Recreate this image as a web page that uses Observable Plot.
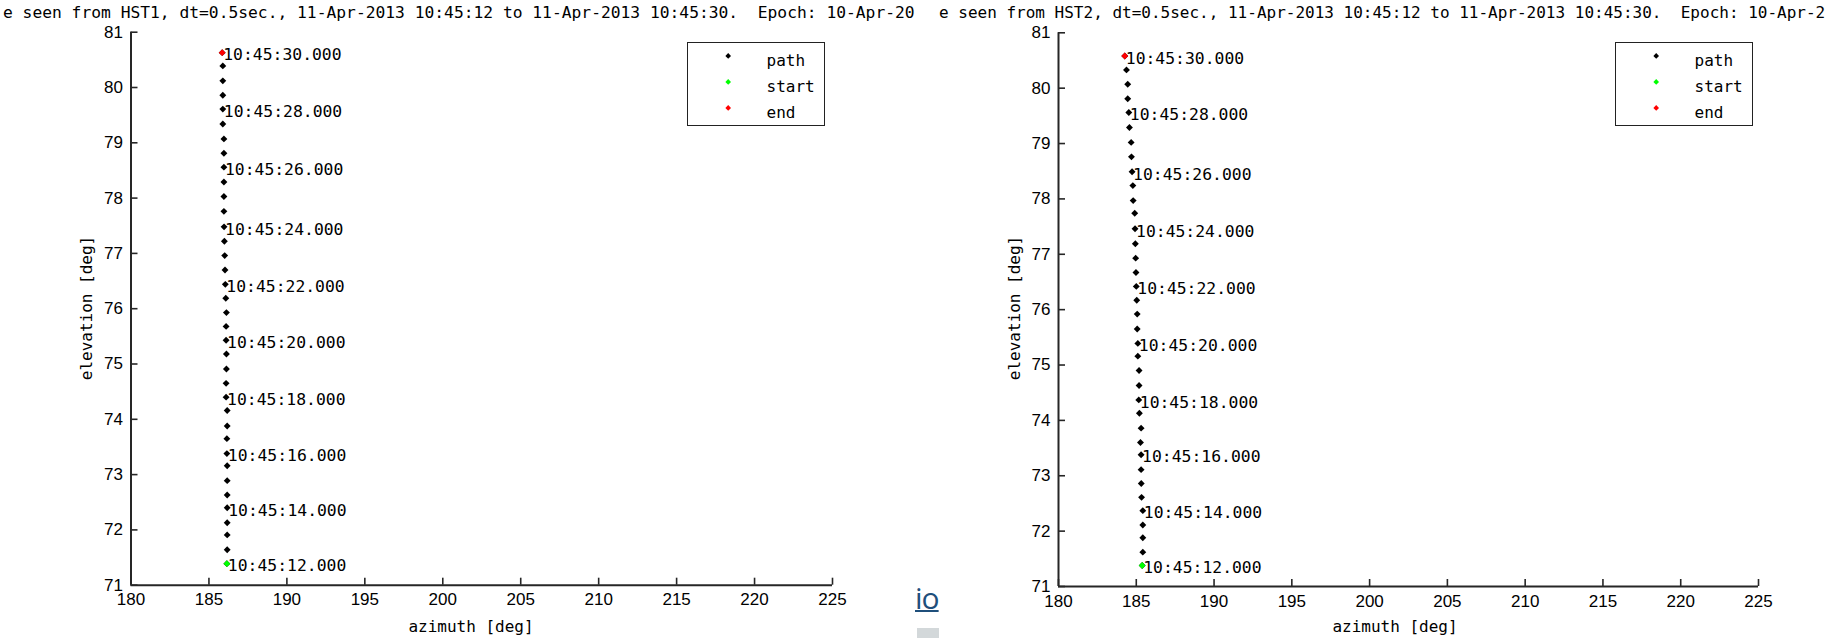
<!DOCTYPE html>
<html>
<head>
<meta charset="utf-8">
<script src="https://cdn.jsdelivr.net/npm/d3@7"></script>
<script src="https://cdn.jsdelivr.net/npm/@observablehq/plot@0.6"></script>
<style>
html,body{margin:0;padding:0;background:#fff;}
body{width:1834px;height:638px;overflow:hidden;position:relative;font-family:"DejaVu Sans Mono",monospace;color:#000;}
.abs{position:absolute;}
.title{white-space:pre;line-height:16px;}
.xlab{font-size:16px;line-height:16px;white-space:pre;width:200px;text-align:center;}
.ylab{font-size:16px;line-height:16px;white-space:pre;width:200px;text-align:center;transform:rotate(-90deg);}
.legend{box-sizing:border-box;width:138px;height:84px;border:1.5px solid #222;background:#fff;}
.lm{position:absolute;width:4.4px;height:4.4px;transform:rotate(45deg);}
.lt{position:absolute;font-size:16px;line-height:16px;white-space:pre;}
</style>
</head>
<body>
<script>
// ---- data ----
// 0.5 s steps from 10:45:12 to 10:45:30 (37 samples), index 0 = start
const azimuthHST1 = [186.15,186.17,186.17,186.17,186.17,186.17,186.17,186.17,186.15,186.15,186.17,186.17,186.10,186.10,186.12,186.12,186.10,186.10,186.12,186.08,186.05,186.03,186.01,185.99,185.97,185.96,185.96,185.96,185.96,185.96,185.96,185.89,185.89,185.89,185.89,185.89,185.85];
const elevationHST1 = [71.39,71.64,71.91,72.13,72.40,72.63,72.89,73.16,73.38,73.65,73.88,74.16,74.40,74.65,74.91,75.18,75.43,75.68,75.93,76.19,76.44,76.70,76.96,77.22,77.48,77.76,78.03,78.29,78.56,78.81,79.07,79.34,79.61,79.86,80.12,80.39,80.63];
const azimuthHST2 = [185.38,185.42,185.42,185.42,185.42,185.34,185.32,185.31,185.31,185.27,185.31,185.20,185.16,185.18,185.18,185.10,185.10,185.06,185.06,185.03,185.00,184.98,184.96,184.94,184.92,184.90,184.80,184.78,184.73,184.69,184.67,184.56,184.52,184.45,184.45,184.37,184.26];
const elevationHST2 = [71.38,71.62,71.88,72.11,72.37,72.61,72.86,73.11,73.38,73.60,73.86,74.13,74.37,74.63,74.90,75.16,75.39,75.65,75.92,76.17,76.42,76.67,76.93,77.19,77.46,77.74,77.97,78.24,78.49,78.76,79.02,79.29,79.56,79.81,80.07,80.33,80.58];
const labelTimes = ["10:45:12.000","10:45:14.000","10:45:16.000","10:45:18.000","10:45:20.000","10:45:22.000","10:45:24.000","10:45:26.000","10:45:28.000","10:45:30.000"];
const labelStep = 4; // a label every 2 s = every 4 samples
const xTicks = [180,185,190,195,200,205,210,215,220,225];
const yTicks = [71,72,73,74,75,76,77,78,79,80,81];
const legendNames = ["path","start","end"];
const legendColors = ["#000000","#00ff00","#ff0000"];
const titles = [
  "e seen from HST1, dt=0.5sec., 11-Apr-2013 10:45:12 to 11-Apr-2013 10:45:30.  Epoch: 10-Apr-20",
  "e seen from HST2, dt=0.5sec., 11-Apr-2013 10:45:12 to 11-Apr-2013 10:45:30.  Epoch: 10-Apr-2"
];
const xLabel = "azimuth [deg]";
const yLabel = "elevation [deg]";

// ---- layout ----
const panels = [
  {az: azimuthHST1, el: elevationHST1, title: titles[0], left: 0, width: 920, mL: 130.5, mR: 88, mT: 31.7, mB: 53.3,
   titleX: 3, titleSize: 16.3, xLabX: 471, yLabX: 86.5, legX: 687},
  {az: azimuthHST2, el: elevationHST2, title: titles[1], left: 920, width: 914, mL: 138, mR: 76, mT: 32.3, mB: 52,
   titleX: 939, titleSize: 16.0, xLabX: 1395, yLabX: 1014.5, legX: 1615}
];

function el(tag, cls, style, text) {
  const e = document.createElement(tag);
  if (cls) e.className = cls;
  Object.assign(e.style, style);
  if (text != null) e.textContent = text;
  document.body.appendChild(e);
  return e;
}

// background artifact between the two screenshots
el("div", "abs", {left: "915px", top: "578px", font: "30px 'Open Sans', sans-serif", color: "#1f4f7b", textDecoration: "underline", textDecorationThickness: "2px", whiteSpace: "pre", lineHeight: "40px", letterSpacing: "-1px"}, "io");
el("div", "abs", {left: "917px", top: "628px", width: "22px", height: "10px", background: "#d3d8da"});

for (const p of panels) {
  const pts = p.az.map((a, i) => ({az: a, el: p.el[i]}));
  const labeled = labelTimes.map((t, k) => ({...pts[k * labelStep], t}));
  const chart = Plot.plot({
    width: p.width, height: 638,
    marginLeft: p.mL, marginRight: p.mR, marginTop: p.mT, marginBottom: p.mB,
    x: {domain: [xTicks[0], xTicks[xTicks.length - 1]]},
    y: {domain: [yTicks[0], yTicks[yTicks.length - 1]]},
    style: {background: "transparent", fontFamily: "'Liberation Sans', Arial, sans-serif", fontSize: "17px", color: "#000", overflow: "visible"},
    marks: [
      Plot.ruleX([xTicks[0]], {stroke: "#262626", strokeWidth: 2}),
      Plot.ruleY([yTicks[0]], {stroke: "#262626", strokeWidth: 2}),
      Plot.axisX({ticks: xTicks, tickSize: -7, tickPadding: 15, tickFormat: d => String(d), label: null, stroke: "#262626", strokeWidth: 1.6, fill: "#000"}),
      Plot.axisY({ticks: yTicks, tickSize: -7, tickPadding: 15, tickFormat: d => String(d), label: null, stroke: "#262626", strokeWidth: 1.6, fill: "#000"}),
      Plot.dot(pts, {x: "az", y: "el", symbol: "diamond2", r: 3.1, fill: legendColors[0], stroke: null}),
      Plot.dot([pts[0]], {x: "az", y: "el", symbol: "diamond2", r: 3.1, fill: legendColors[1], stroke: null}),
      Plot.dot([pts[pts.length - 1]], {x: "az", y: "el", symbol: "diamond2", r: 3.1, fill: legendColors[2], stroke: null}),
      Plot.text(labeled, {x: "az", y: "el", text: "t", textAnchor: "start", dx: 1, dy: 2.5, fontFamily: "'DejaVu Sans Mono', monospace", fontSize: 16.4, fill: "#000"})
    ]
  });
  chart.style.position = "absolute";
  chart.style.left = p.left + "px";
  chart.style.top = "0px";
  document.body.appendChild(chart);

  el("div", "abs title", {left: p.titleX + "px", top: "5px", fontSize: p.titleSize + "px"}, p.title);
  el("div", "abs xlab", {left: (p.xLabX - 100) + "px", top: "619px"}, xLabel);
  el("div", "abs ylab", {left: (p.yLabX - 100) + "px", top: (308 - 8) + "px"}, yLabel);

  const leg = el("div", "abs legend", {left: p.legX + "px", top: "42px"});
  legendNames.forEach((name, i) => {
    const cy = 15 + i * 26; // relative to legend box
    const m = document.createElement("div");
    m.className = "lm";
    Object.assign(m.style, {left: (42 - 2.2 - 1.5) + "px", top: (cy - 2.2 - 1.5) + "px", background: legendColors[i]});
    leg.appendChild(m);
    const t = document.createElement("div");
    t.className = "lt";
    Object.assign(t.style, {left: (80 - 1.5) + "px", top: (cy + 10 - 13.5 - 1.5) + "px"});
    t.textContent = name;
    leg.appendChild(t);
  });
}
</script>
</body>
</html>
